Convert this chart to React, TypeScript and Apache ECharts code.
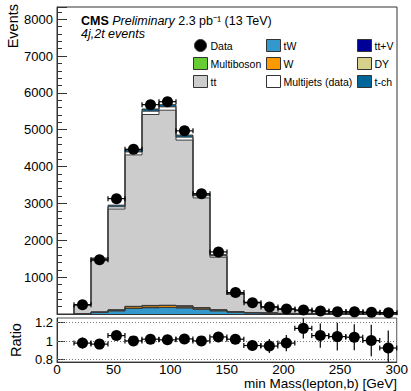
import { useEffect, useRef } from 'react';
import * as echarts from 'echarts';

const FONT = 'Liberation Sans, Arial, Helvetica, sans-serif';

// bin centres [GeV], bins are 15 GeV wide
const binCenters = [22.5, 37.5, 52.5, 67.5, 82.5, 97.5, 112.5, 127.5, 142.5, 157.5, 172.5, 187.5, 202.5, 217.5, 232.5, 247.5, 262.5, 277.5, 292.5];
const binHalfWidth = 7.5;

// observed data
const dataEvents = [250, 1470, 3130, 4470, 5680, 5760, 4970, 3265, 1684, 581, 308, 190, 135, 110, 80, 62, 58, 45, 35];
const dataErrors = [16, 38, 56, 67, 75, 76, 70, 57, 41, 24, 18, 14, 12, 11, 9, 8, 8, 7, 6];

// ratio panel
const ratioValues = [0.979, 0.968, 1.06, 1.003, 1.021, 1.014, 1.024, 1.003, 1.046, 1.021, 0.953, 0.947, 0.979, 1.138, 1.06, 1.049, 1.043, 1.006, 0.926];
const ratioErrors = [0.06, 0.03, 0.02, 0.016, 0.015, 0.015, 0.016, 0.019, 0.027, 0.042, 0.057, 0.075, 0.088, 0.11, 0.13, 0.15, 0.14, 0.17, 0.19];

// simulated stack components
const tWValues = [8, 40, 85, 150, 170, 175, 165, 130, 85, 50, 30, 20, 12, 8, 6, 4, 3, 3, 2];
const ttVValues = [0, 1, 2, 3, 3, 3, 3, 2, 2, 1, 1, 1, 0, 0, 0, 0, 0, 0, 0];
const wValues = [2, 10, 20, 45, 50, 50, 45, 35, 22, 12, 8, 5, 3, 2, 2, 1, 1, 1, 1];
const multibosonValues = [0, 1, 1, 2, 2, 2, 2, 1, 1, 1, 0, 0, 0, 0, 0, 0, 0, 0, 0];
const dyValues = [0, 3, 5, 8, 8, 8, 7, 5, 4, 3, 2, 2, 1, 1, 1, 0, 0, 0, 0];
const ttValues = [235, 1394, 2735, 4109, 5180, 5292, 4497, 2977, 1426, 467, 262, 161, 114, 80, 62, 50, 48, 39, 33];
const multijetsValues = [5, 40, 60, 80, 90, 90, 80, 60, 40, 20, 10, 6, 4, 3, 2, 2, 2, 1, 1];
const tchValues = [5, 30, 45, 60, 60, 60, 55, 45, 30, 15, 10, 6, 4, 3, 2, 2, 2, 1, 1];

const xTickLabels = [0, 50, 100, 150, 200, 250, 300];
const ratioTickLabels = [0.8, 1, 1.2];

const stackOrder = [
  { name: 'tW', values: tWValues, color: '#3399cc' },
  { name: 'tt+V', values: ttVValues, color: '#000099' },
  { name: 'W', values: wValues, color: '#ff9900' },
  { name: 'Multiboson', values: multibosonValues, color: '#66cc33' },
  { name: 'DY', values: dyValues, color: '#d6d08b' },
  { name: 'tt', values: ttValues, color: '#cccccc' },
  { name: 'Multijets (data)', values: multijetsValues, color: '#ffffff' },
  { name: 't-ch', values: tchValues, color: '#006699' },
];

function buildOption() {
  const cumulative = binCenters.map(() => 0);
  const stackSeries: any[] = [];
  const outlineData: number[][] = [];
  stackOrder.forEach((comp) => {
    const items = binCenters.map((c, i) => {
      const base = cumulative[i];
      const top = base + comp.values[i];
      return [c - binHalfWidth, c + binHalfWidth, base, top];
    });
    items.forEach((it, i) => {
      const prevTop = i > 0 ? items[i - 1][3] : 0;
      outlineData.push([it[0], it[1], it[3], prevTop]);
    });
    binCenters.forEach((_, i) => { cumulative[i] += comp.values[i]; });
    const color = comp.color;
    stackSeries.push({
      name: comp.name,
      type: 'custom',
      xAxisIndex: 0,
      yAxisIndex: 0,
      itemStyle: { color },
      encode: { x: [0, 1], y: [2, 3] },
      z: 2,
      data: items,
      renderItem: (params: any, api: any) => {
        const x0 = api.value(0), x1 = api.value(1), base = api.value(2), top = api.value(3);
        if (!(top > base)) return null;
        const p0 = api.coord([x0, top]);
        const p1 = api.coord([x1, base]);
        return {
          type: 'rect',
          shape: { x: p0[0], y: p0[1], width: p1[0] - p0[0], height: p1[1] - p0[1] },
          style: { fill: color, stroke: null },
        };
      },
    });
  });

  const outlineSeries = {
    type: 'custom',
    xAxisIndex: 0,
    yAxisIndex: 0,
    z: 3,
    silent: true,
    encode: { x: [0, 1], y: [2, 3] },
    data: outlineData,
    renderItem: (params: any, api: any) => {
      const x0 = api.value(0), x1 = api.value(1), top = api.value(2), prevTop = api.value(3);
      const a = api.coord([x0, top]);
      const b = api.coord([x1, top]);
      const p = api.coord([x0, prevTop]);
      return {
        type: 'group',
        children: [
          { type: 'line', shape: { x1: a[0], y1: a[1], x2: b[0], y2: b[1] }, style: { stroke: '#3c3c3c', lineWidth: 1 } },
          { type: 'line', shape: { x1: a[0], y1: p[1], x2: a[0], y2: a[1] }, style: { stroke: '#3c3c3c', lineWidth: 1 } },
        ],
      };
    },
  };

  const errorRender = (params: any, api: any) => {
    const x = api.value(0), y = api.value(1), err = api.value(2);
    const cs = params.coordSys;
    const clampY = (v: number) => Math.max(cs.y, Math.min(cs.y + cs.height, v));
    const l = api.coord([x - binHalfWidth, y]);
    const r = api.coord([x + binHalfWidth, y]);
    const t = api.coord([x, y + err]);
    const bt = api.coord([x, y - err]);
    const st = { stroke: '#000', lineWidth: 1.2 };
    return {
      type: 'group',
      children: [
        { type: 'line', shape: { x1: l[0], y1: l[1], x2: r[0], y2: r[1] }, style: st },
        { type: 'line', shape: { x1: l[0], y1: l[1] - 2.5, x2: l[0], y2: l[1] + 2.5 }, style: st },
        { type: 'line', shape: { x1: r[0], y1: r[1] - 2.5, x2: r[0], y2: r[1] + 2.5 }, style: st },
        { type: 'line', shape: { x1: t[0], y1: clampY(t[1]), x2: bt[0], y2: clampY(bt[1]) }, style: st },
      ],
    };
  };

  const dataPoints = binCenters.map((c, i) => [c, dataEvents[i]]);
  const dataErr = binCenters.map((c, i) => [c, dataEvents[i], dataErrors[i]]);
  const ratioPoints = binCenters.map((c, i) => [c, ratioValues[i]]);
  const ratioErr = binCenters.map((c, i) => [c, ratioValues[i], ratioErrors[i]]);

  const legendCommon = {
    orient: 'vertical',
    itemWidth: 14,
    itemHeight: 12,
    itemGap: 5,
    icon: 'rect',
    selectedMode: false,
    padding: 0,
    textStyle: { fontSize: 10.5, color: '#000', fontFamily: FONT, padding: [0, 0, 0, -2] },
    itemStyle: { borderColor: '#333', borderWidth: 1 },
  };

  return {
    animation: false,
    backgroundColor: '#ffffff',
    textStyle: { fontFamily: FONT },
    legend: [
      { ...legendCommon, left: 193, top: 39, data: [{ name: 'Data', icon: 'circle' }, 'Multiboson', 'tt'] },
      { ...legendCommon, left: 266, top: 39, data: ['tW', 'W', 'Multijets (data)'] },
      { ...legendCommon, left: 357, top: 39, data: ['tt+V', 'DY', 't-ch'] },
    ],
    grid: [
      { left: 57, top: 7, width: 340, height: 307, show: true, borderColor: '#333', borderWidth: 1, backgroundColor: 'transparent' },
      { left: 57, top: 318, width: 340, height: 44, show: true, borderColor: '#555', borderWidth: 1, backgroundColor: 'transparent' },
    ],
    xAxis: [
      {
        gridIndex: 0, type: 'value', min: 0, max: 300, interval: 50,
        axisLabel: { show: false }, axisTick: { show: false }, splitLine: { show: false },
        axisLine: { show: true, lineStyle: { color: '#333' } },
      },
      {
        gridIndex: 1, type: 'value', min: 0, max: 300, interval: 50,
        axisLabel: {
          fontSize: 13.5, lineHeight: 12, color: '#000', fontFamily: FONT, margin: 1,
          formatter: (v: number) => (xTickLabels.indexOf(v) >= 0 ? String(v) : ''),
        },
        axisTick: { show: false }, splitLine: { show: false },
        axisLine: { show: true, lineStyle: { color: '#333' } },
      },
    ],
    yAxis: [
      {
        gridIndex: 0, type: 'value', min: 0, max: 8330, interval: 1000,
        axisLabel: {
          fontSize: 13, color: '#000', fontFamily: FONT, margin: 4,
          formatter: (v: number) => (v > 0 && v <= 8000 && v % 1000 === 0 ? String(v) : ''),
        },
        axisTick: { show: true, inside: true, length: 10, lineStyle: { color: '#333' } },
        minorTick: { show: true, splitNumber: 5, length: 5, lineStyle: { color: '#333' } },
        splitLine: { show: false },
        axisLine: { show: true, lineStyle: { color: '#333' } },
      },
      {
        gridIndex: 1, type: 'value', min: 0.775, max: 1.25,
        axisLabel: {
          fontSize: 13, color: '#000', fontFamily: FONT, margin: 4,
          customValues: ratioTickLabels,
          formatter: (v: number) => String(Math.round(v * 10) / 10),
        },
        axisTick: { show: true, inside: true, length: 8, customValues: ratioTickLabels, lineStyle: { color: '#333' } },
        splitLine: { show: false },
        axisLine: { show: true, lineStyle: { color: '#333' } },
      },
    ],
    series: [
      ...stackSeries,
      outlineSeries,
      {
        type: 'custom', xAxisIndex: 0, yAxisIndex: 0, z: 5, silent: true,
        data: dataErr, renderItem: errorRender,
      },
      {
        name: 'Data', type: 'scatter', xAxisIndex: 0, yAxisIndex: 0, z: 6,
        symbol: 'circle', symbolSize: 11, itemStyle: { color: '#000', opacity: 1 }, data: dataPoints,
      },
      {
        type: 'custom', xAxisIndex: 1, yAxisIndex: 1, z: 5, silent: true,
        data: ratioErr, renderItem: errorRender,
      },
      {
        type: 'scatter', xAxisIndex: 1, yAxisIndex: 1, z: 6,
        symbol: 'circle', symbolSize: 11, itemStyle: { color: '#000', opacity: 1 }, data: ratioPoints,
        markLine: {
          silent: true, symbol: 'none', animation: false,
          label: { show: false },
          lineStyle: { type: [1, 2], color: '#777', width: 1 },
          data: ratioTickLabels.map((v) => ({ yAxis: v })),
        },
      },
    ],
    graphic: [
      {
        type: 'text', left: 81, top: 14,
        style: {
          text: '{b|CMS} {i|Preliminary} {n|2.3 pb⁻¹ (13 TeV)}',
          rich: {
            b: { fontSize: 12.5, fontWeight: 'bold', fontFamily: FONT, fill: '#000' },
            i: { fontSize: 12.5, fontStyle: 'italic', fontFamily: FONT, fill: '#000' },
            n: { fontSize: 12.5, fontFamily: FONT, fill: '#000' },
          },
          fontSize: 12.5, fontFamily: FONT, fill: '#000',
        },
      },
      {
        type: 'text', left: 81, top: 27,
        style: { text: '4j,2t events', fontSize: 12.5, fontStyle: 'italic', fontFamily: FONT, fill: '#000' },
      },
      {
        type: 'text', x: 13, y: 4, rotation: Math.PI / 2,
        style: { text: 'Events', fontSize: 14.5, fontFamily: FONT, fill: '#000', align: 'right', verticalAlign: 'middle' },
      },
      {
        type: 'text', x: 16, y: 340, rotation: Math.PI / 2,
        style: { text: 'Ratio', fontSize: 14.5, fontFamily: FONT, fill: '#000', align: 'center', verticalAlign: 'middle' },
      },
      {
        type: 'text', x: 397, y: 376,
        style: { text: 'min Mass(lepton,b) [GeV]', fontSize: 13.5, lineHeight: 14, fontFamily: FONT, fill: '#000', align: 'right', verticalAlign: 'top' },
      },
    ],
  };
}

export default function App() {
  const ref = useRef<HTMLDivElement>(null);
  useEffect(() => {
    if (!ref.current) return;
    const chart = echarts.init(ref.current, undefined, { renderer: 'svg' });
    chart.setOption(buildOption() as any);
    return () => chart.dispose();
  }, []);
  return (
    <div
      ref={ref}
      style={{ position: 'fixed', left: 0, top: 0, width: 411, height: 391, background: '#fff' }}
    />
  );
}
